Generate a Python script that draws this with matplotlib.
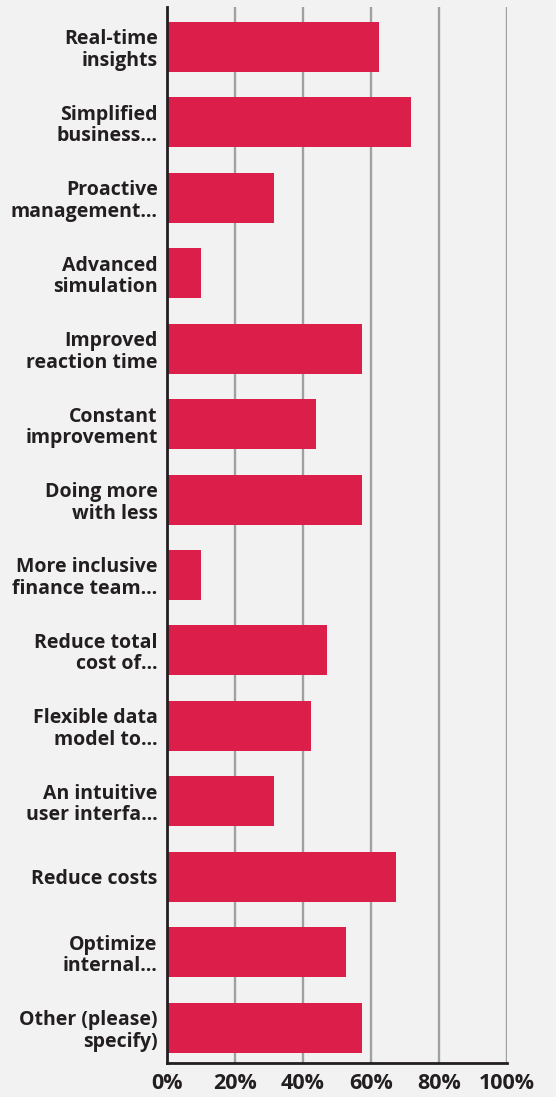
import matplotlib
matplotlib.use('Agg')
import matplotlib.pyplot as plt
import numpy as np

# data
categories = ['Real-time\ninsights', 'Simplified\nbusiness…', 'Proactive\nmanagement…',
              'Advanced\nsimulation', 'Improved\nreaction time', 'Constant\nimprovement',
              'Doing more\nwith less', 'More inclusive\nfinance team…', 'Reduce total\ncost of…',
              'Flexible data\nmodel to…', 'An intuitive\nuser interfa…', 'Reduce costs',
              'Optimize\ninternal…', 'Other (please)\nspecify)']
values = [62.5, 71.7, 31.4, 10.0, 57.4, 43.8, 57.4, 10.0, 47.1, 42.4, 31.4, 67.4, 52.6, 57.5]
xticks = [0, 20, 40, 60, 80, 100]
xtick_labels = ['0%', '20%', '40%', '60%', '80%', '100%']

bg = '#f2f2f2'
bar_color = '#dc1e4b'
text_color = '#231f20'

plt.rcParams['font.family'] = ['Open Sans', 'DejaVu Sans']

fig = plt.figure(figsize=(5.56, 10.97), dpi=100, facecolor=bg)
ax = fig.add_axes([0.301, 0.031, 0.61, 0.9626])
ax.set_facecolor(bg)

y = np.arange(len(categories))
ax.barh(y, values, height=0.663, color=bar_color, zorder=3)

ax.set_xlim(0, 100)
ax.set_ylim(13.47, -0.53)
ax.set_xticks(xticks)
ax.set_xticklabels(xtick_labels, fontsize=15.5, fontweight='bold', color=text_color)
ax.set_yticks(y)
ax.set_yticklabels(categories, fontsize=14, fontweight='bold', color=text_color,
                   linespacing=1.1)
ax.tick_params(axis='both', length=0)
ax.tick_params(axis='y', pad=7)
ax.tick_params(axis='x', pad=7)

ax.grid(axis='x', color='#a0a0a0', linewidth=1.7, zorder=1)
ax.set_axisbelow(True)
for s in ['top', 'right']:
    ax.spines[s].set_visible(False)
for s in ['left', 'bottom']:
    ax.spines[s].set_color(text_color)
    ax.spines[s].set_linewidth(2)
    ax.spines[s].set_zorder(4)

fig.savefig('out.png', dpi=100, facecolor=bg)
